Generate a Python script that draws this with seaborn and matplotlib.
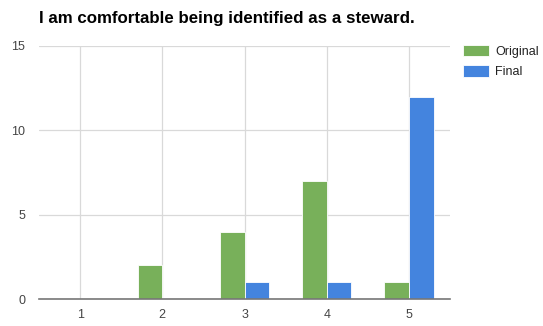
import matplotlib
matplotlib.use("Agg")
import matplotlib.pyplot as plt
import seaborn as sns
import pandas as pd

# Survey responses on a 1-5 agreement scale
ratings = ["1", "2", "3", "4", "5"]
original = [0, 2, 4, 7, 1]
final = [0, 0, 1, 1, 12]
series_names = ["Original", "Final"]

df = pd.DataFrame({
    "rating": ratings * 2,
    "count": original + final,
    "series": [series_names[0]] * len(ratings) + [series_names[1]] * len(ratings),
})

sns.set_theme(style="white")
plt.rcParams["font.family"] = ["Liberation Sans", "DejaVu Sans"]

fig = plt.figure(figsize=(5.43, 3.26), dpi=100)
ax = fig.add_axes([39 / 543, 1 - 299 / 326, (450 - 39) / 543, (299 - 46) / 326])

sns.barplot(
    data=df, x="rating", y="count", hue="series", order=ratings,
    hue_order=series_names, palette=["#78B05A", "#4484DE"],
    width=0.6, saturation=1, edgecolor="white", linewidth=0.6, ax=ax,
)

ax.set_ylim(0, 15)
ax.set_xlim(-0.5, 4.5)
ax.set_yticks([0, 5, 10, 15])
ax.set_xlabel("")
ax.set_ylabel("")
ax.grid(True, axis="both", color="#d9d9d9", linewidth=0.9)
ax.set_axisbelow(True)
for side in ["top", "right", "left"]:
    ax.spines[side].set_visible(False)
ax.spines["bottom"].set_color("#777777")
ax.spines["bottom"].set_linewidth(1.2)
ax.tick_params(axis="both", length=0, labelsize=9, colors="#444444")
ax.tick_params(axis="y", pad=10)
ax.tick_params(axis="x", pad=7)

handles, labels = ax.get_legend_handles_labels()
ax.get_legend().remove()
fig.legend(
    handles, labels, loc="upper left", bbox_to_anchor=(463 / 543, 1 - 45 / 326),
    frameon=False, fontsize=9, handlelength=2.1, handleheight=1.0,
    handletextpad=0.45, labelspacing=0.6, borderpad=0, borderaxespad=0,
    labelcolor="#222222",
)

fig.text(39 / 543, 1 - 18 / 326, "I am comfortable being identified as a steward.",
         fontsize=12.2, fontweight="bold", color="#000000", va="center", ha="left")

fig.savefig("out.png", dpi=100, facecolor="white")
